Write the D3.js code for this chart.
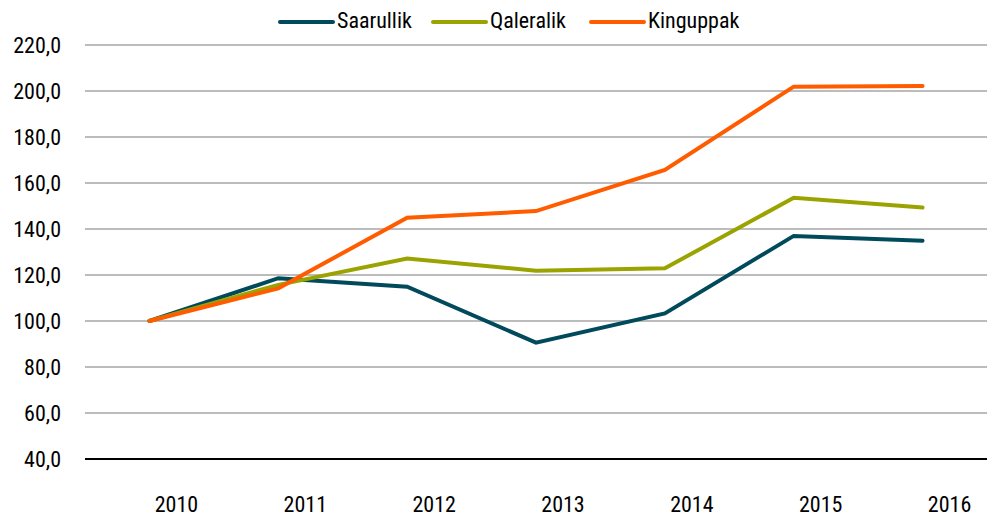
<!DOCTYPE html>
<html><head><meta charset="utf-8">
<script src="https://cdn.jsdelivr.net/npm/d3@7"></script>
<style>
body{margin:0;background:#fff;}
text{font-family:"Roboto Condensed","Roboto",sans-serif;font-stretch:condensed;}
</style></head>
<body><svg id="c" width="994" height="515"></svg>
<script>
const years = ["2010","2011","2012","2013","2014","2015","2016"];
const seriesNames = ["Saarullik","Qaleralik","Kinguppak"];
const saarullik = [100.0,118.6,114.9,90.6,103.3,137.0,134.9];
const qaleralik = [100.0,115.7,127.2,121.9,122.9,153.6,149.3];
const kinguppak = [100.0,114.2,144.9,147.8,165.7,201.9,202.2];
const yTicks = [40,60,80,100,120,140,160,180,200,220];
const colors = ["#004A5C","#9AA300","#FF5C00"];

(function(){
const svg = d3.select("#c");
const pL = 85, pR = 987, pT = 45, pB = 459;
const FONT = "Roboto Condensed, Roboto, sans-serif";
const x = d3.scaleBand().domain(years).range([pL,pR]);
const y = d3.scaleLinear().domain([40,220]).range([pB,pT]);
const fmt = v => d3.format(".1f")(v).replace(".",",");

// gridlines
svg.append("g").selectAll("line").data(yTicks.filter(t=>t>40)).join("line")
  .attr("x1",pL).attr("x2",pR).attr("y1",d=>y(d)).attr("y2",d=>y(d))
  .attr("stroke","#A6A6A6").attr("stroke-width",1.6);
svg.append("line").attr("x1",pL).attr("x2",pR).attr("y1",y(40)).attr("y2",y(40))
  .attr("stroke","#000").attr("stroke-width",2.2);

// y labels
const yAxis = d3.axisLeft(y).tickValues(yTicks).tickFormat(fmt).tickSize(0).tickPadding(0);
const gy = svg.append("g").attr("transform",`translate(61,0)`).call(yAxis);
gy.select(".domain").remove();
gy.selectAll("text").attr("font-size",22).attr("fill","#000")
  .attr("font-family",FONT).attr("dy","0.35em");

// x labels
const xAxis = d3.axisBottom(x).tickSize(0).tickPadding(0);
const gx = svg.append("g").attr("transform",`translate(27,512)`).call(xAxis);
gx.select(".domain").remove();
gx.selectAll("text").attr("font-size",22).attr("fill","#000")
  .attr("font-family",FONT).attr("y",0).attr("dy",0);

// lines
const data = [saarullik,qaleralik,kinguppak];
const line = d3.line().x((d,i)=>x(years[i])+x.bandwidth()/2).y(d=>y(d));
svg.append("g").selectAll("path").data(data).join("path")
  .attr("d",line).attr("fill","none")
  .attr("stroke",(d,i)=>colors[i]).attr("stroke-width",4)
  .attr("stroke-linejoin","miter").attr("stroke-linecap","round");

// legend
const legX = [280,433,591];
const lg = svg.append("g").selectAll("g").data(seriesNames).join("g")
  .attr("transform",(d,i)=>`translate(${legX[i]},22)`);
lg.append("line").attr("x1",0).attr("x2",53).attr("y1",0).attr("y2",0)
  .attr("stroke",(d,i)=>colors[i]).attr("stroke-width",4).attr("stroke-linecap","round");
lg.append("text").attr("x",57).attr("y",6).attr("font-size",22).attr("fill","#000")
  .attr("font-family",FONT).text(d=>d);
})();
</script></body></html>
